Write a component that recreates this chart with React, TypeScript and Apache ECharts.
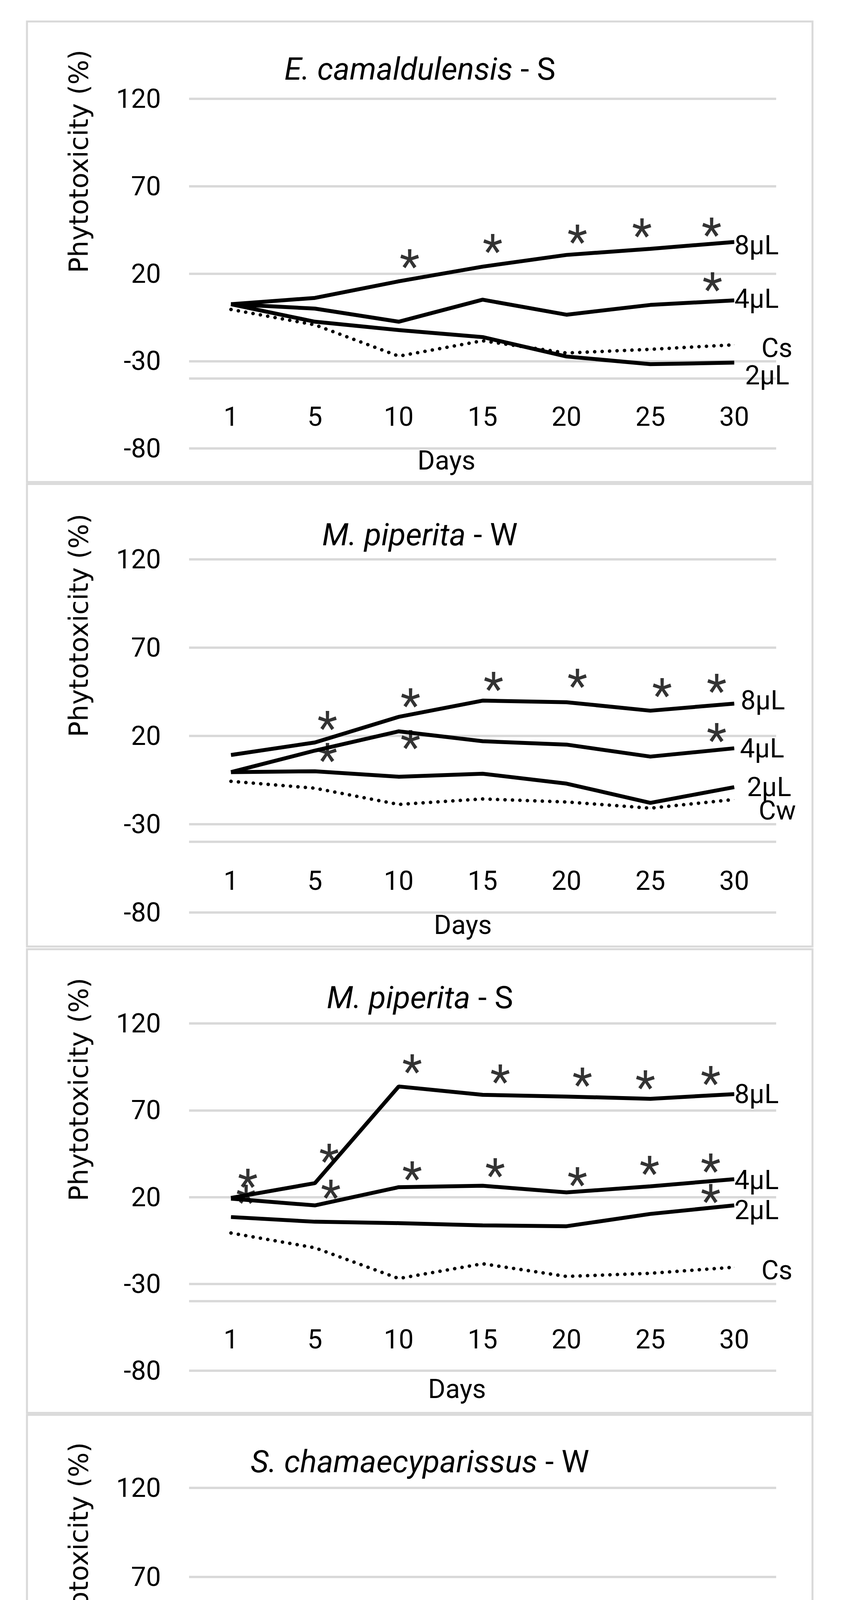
import React, { useEffect, useRef } from 'react';
import * as echarts from 'echarts';

// ---------- data ----------
const days = ['1', '5', '10', '15', '20', '25', '30'];
const yMin = -80;
const yMax = 120;
const yStep = 50;
const axisCrossValue = -40;
const xLabelLevel = -62;

// Panel 1: E. camaldulensis - S
const ecS_8 = [2.5, 6.1, 15.6, 24.0, 30.7, 34.2, 38.1];
const ecS_4 = [2.5, 0, -7.5, 5.1, -3.5, 2.1, 4.7];
const ecS_2 = [2.5, -7.5, -12.3, -16.3, -27.4, -31.8, -30.9];
const ecS_C = [-0.5, -9.3, -27.2, -18.4, -25.4, -23.3, -20.7];
const ecS_stars = [[2.13, 28.4], [3.12, 37.2], [4.13, 42.5], [4.9, 46.0], [5.73, 46.5], [5.74, 15.3]];

// Panel 2: M. piperita - W
const mpW_8 = [9.2, 16.3, 30.8, 40.0, 39.1, 34.3, 38.3];
const mpW_4 = [-0.5, 11.7, 22.6, 17.0, 15.1, 8.3, 13.0];
const mpW_2 = [-0.5, 0, -3.1, -1.4, -7.0, -17.9, -9.0];
const mpW_C = [-5.7, -9.6, -18.8, -15.7, -17.4, -20.9, -16.0];
const mpW_stars = [[1.15, 28.7], [1.15, 10.4], [2.14, 41.4], [2.14, 17.7], [3.13, 50.8], [4.13, 52.5], [5.14, 47.3], [5.79, 49.6], [5.79, 21.7]];

// Panel 3: M. piperita - S
const mpS_8 = [19.5, 28.0, 83.7, 78.9, 77.9, 76.6, 79.3];
const mpS_4 = [19.1, 15.2, 25.7, 26.5, 22.7, 26.2, 30.3];
const mpS_2 = [8.5, 5.8, 5.0, 3.7, 3.2, 10.3, 15.2];
const mpS_C = [-0.7, -9.2, -26.9, -18.4, -25.7, -23.9, -20.4];
const mpS_stars = [[0.2, 30.6], [0.18, 21.4], [1.17, 45.1], [1.19, 24.4], [2.16, 96.5], [2.16, 35.0], [3.21, 90.8], [3.15, 36.8], [4.19, 89.0], [4.13, 31.5], [4.94, 87.3], [4.99, 38.1], [5.72, 89.9], [5.72, 39.5], [5.72, 21.8]];

// Panel 4: S. chamaecyparissus - W
const scW_8 = [-1.0, 1.4, 36.4, 33.8, 30.0, 31.2, 30.0];
const scW_4 = [-5.9, -2.1, -11.0, -15.3, -17.1, -14.1, -21.7];
const scW_2 = [-6.7, -2.1, -16.2, -21.7, -26.6, -31.4, -28.3];
const scW_C = [-7.6, -9.3, -18.8, -16.2, -17.9, -20.5, -15.7];
const scW_stars = [[2.19, 45.5], [3.13, 46.7], [4.16, 41.6], [5.14, 40.7], [5.72, 37.6]];

// Panel 5: S. chamaecyparissus - S
const scS_8 = [8.7, 13.5, 15.2, 19.7, 17.7, 25.7, 21.4];
const scS_4 = [6.7, 2.8, 0.4, 8.7, 1.1, -1.3, 6.2];
const scS_2 = [3.3, -4.0, -7.4, -1.5, -10.3, -6.1, -7.8];
const scS_C = [-0.6, -9.5, -26.5, -18.0, -25.6, -23.1, -20.0];
const scS_stars = [[1.16, 27.9], [2.13, 24.2], [3.13, 30.4], [4.1, 29.6], [5.14, 37.2], [5.74, 30.4], [4.13, 8.4], [5.78, 15.2]];

const seriesNames = ['8µL', '4µL', '2µL'];

// ---------- layout / style ----------
const FONT = 'Roboto, "Liberation Sans", sans-serif';
const TITLE_FONT = 'Roboto, "Liberation Sans", sans-serif';
const YTITLE_FONT = '"DejaVu Sans", Verdana, sans-serif';
const GRID_COLOR = '#d9d9d9';
const FS = 68;
const TITLE_FS = 80;
const STAR_FS = 118;

const panels = [
  {
    species: 'E. camaldulensis', suffix: ' - S', control: 'Cs',
    s8: ecS_8, s4: ecS_4, s2: ecS_2, c: ecS_C, stars: ecS_stars,
    box: [69, 55, 2011, 1179], grid: [484, 253, 1503, 895],
    titleY: 177, yTitle: [202, 413], daysPos: [1143, 1179],
    off: { s8: [0, 8], s4: [0, -4], s2: [27, 33], c: [69, 8] },
  },
  {
    species: 'M. piperita', suffix: ' - W', control: 'Cw',
    s8: mpW_8, s4: mpW_4, s2: mpW_2, c: mpW_C, stars: mpW_stars,
    box: [69, 1239, 2011, 1184], grid: [484, 1432, 1503, 904],
    titleY: 1369, yTitle: [202, 1601], daysPos: [1185, 2368],
    off: { s8: [16, -8], s4: [14, 0], s2: [32, 0], c: [62, 28] },
  },
  {
    species: 'M. piperita', suffix: ' - S', control: 'Cs',
    s8: mpS_8, s4: mpS_4, s2: mpS_2, c: mpS_C, stars: mpS_stars,
    box: [69, 2430, 2011, 1187], grid: [484, 2620, 1503, 889],
    titleY: 2554, yTitle: [202, 2789], daysPos: [1170, 3556],
    off: { s8: [0, 0], s4: [0, 2], s2: [0, 12], c: [69, 8] },
  },
  {
    species: 'S. chamaecyparissus', suffix: ' - W', control: 'Cw',
    s8: scW_8, s4: scW_4, s2: scW_2, c: scW_C, stars: scW_stars,
    box: [69, 3622, 2011, 1176], grid: [484, 3809, 1503, 912],
    titleY: 3742, yTitle: [202, 3978], daysPos: [1143, 4744],
    off: { s8: [0, 6], s4: [27, 14], s2: [48, 39], c: [62, -37] },
  },
  {
    species: 'S. chamaecyparissus', suffix: ' - S', control: 'Cs',
    s8: scS_8, s4: scS_4, s2: scS_2, c: scS_C, stars: scS_stars,
    box: [50, 4808, 2048, 1178], grid: [473, 5015, 1530, 910],
    titleY: 4932, yTitle: [184, 5168], daysPos: [1188, 5928],
    off: { s8: [5, 0], s4: [14, 0], s2: [69, 9], c: [72, 6] },
  },
];

function lastLabelData(values: number[], name: string, off: number[]) {
  return values.map((v, i) =>
    i === values.length - 1
      ? {
          value: v,
          label: {
            show: true,
            position: 'right',
            distance: 0,
            offset: off,
            formatter: name,
            color: '#000',
            fontFamily: FONT,
            fontSize: FS,
          },
        }
      : v
  );
}

function buildOption() {
  const grid: any[] = [];
  const xAxis: any[] = [];
  const yAxis: any[] = [];
  const series: any[] = [];
  const graphic: any[] = [];

  panels.forEach((p, i) => {
    const [gl, gt, gw, gh] = p.grid;
    grid.push({ left: gl, top: gt, width: gw, height: gh, containLabel: false });
    const labelMargin = -((xLabelLevel - yMin) / (yMax - yMin)) * gh;
    xAxis.push({
      type: 'category',
      gridIndex: i,
      data: days,
      boundaryGap: true,
      axisLine: { show: false },
      axisTick: { show: false },
      splitLine: { show: false },
      axisLabel: {
        margin: labelMargin,
        verticalAlign: 'middle',
        color: '#000',
        fontFamily: FONT,
        fontSize: FS,
      },
    });
    xAxis.push({
      type: 'value',
      gridIndex: i,
      min: -0.5,
      max: days.length - 0.5,
      show: false,
    });
    yAxis.push({
      type: 'value',
      gridIndex: i,
      min: yMin,
      max: yMax,
      interval: yStep,
      axisLine: { show: false },
      axisTick: { show: false },
      splitLine: { show: true, lineStyle: { color: GRID_COLOR, width: 6 } },
      axisLabel: { margin: 72, color: '#000', fontFamily: FONT, fontSize: FS },
    });

    const xi = i * 2;
    const common = {
      type: 'line',
      xAxisIndex: xi,
      yAxisIndex: i,
      showSymbol: true,
      symbol: 'circle',
      symbolSize: 1,
      itemStyle: { color: '#000' },
      silent: true,
      z: 3,
    };
    series.push({
      ...common,
      name: p.control,
      data: lastLabelData(p.c, p.control, p.off.c),
      lineStyle: { color: '#000', width: 9, type: [0.1, 19], cap: 'round' },
      markLine: {
        silent: true,
        symbol: 'none',
        label: { show: false },
        lineStyle: { color: GRID_COLOR, width: 6, type: 'solid' },
        data: [{ yAxis: axisCrossValue }],
        z: 1,
      },
    });
    series.push({
      ...common,
      name: seriesNames[2],
      data: lastLabelData(p.s2, seriesNames[2], p.off.s2),
      lineStyle: { color: '#000', width: 10 },
    });
    series.push({
      ...common,
      name: seriesNames[1],
      data: lastLabelData(p.s4, seriesNames[1], p.off.s4),
      lineStyle: { color: '#000', width: 10 },
    });
    series.push({
      ...common,
      name: seriesNames[0],
      data: lastLabelData(p.s8, seriesNames[0], p.off.s8),
      lineStyle: { color: '#000', width: 10 },
    });
    series.push({
      type: 'scatter',
      xAxisIndex: xi + 1,
      yAxisIndex: i,
      silent: true,
      symbol: 'circle',
      symbolSize: 1,
      itemStyle: { color: 'rgba(0,0,0,0)' },
      data: p.stars,
      label: {
        show: true,
        position: 'inside',
        formatter: '*',
        color: '#000',
        fontFamily: FONT,
        fontSize: STAR_FS,
        offset: [0, 20],
      },
      z: 4,
    });

    const [bx, by, bw, bh] = p.box;
    graphic.push({
      type: 'rect',
      shape: { x: bx, y: by, width: bw, height: bh },
      style: { fill: 'none', stroke: GRID_COLOR, lineWidth: 5 },
      silent: true,
      z: 0,
    });
    graphic.push({
      type: 'text',
      x: 1075,
      y: p.titleY,
      silent: true,
      style: {
        text: `{i|${p.species}}{n|${p.suffix}}`,
        align: 'center',
        verticalAlign: 'middle',
        fill: '#000',
        fontFamily: TITLE_FONT,
        fontSize: TITLE_FS,
        rich: {
          i: { fontStyle: 'italic', fontFamily: TITLE_FONT, fontSize: TITLE_FS, fill: '#000' },
          n: { fontStyle: 'normal', fontFamily: TITLE_FONT, fontSize: TITLE_FS, fill: '#000' },
        },
      },
    });
    graphic.push({
      type: 'text',
      x: p.yTitle[0],
      y: p.yTitle[1],
      rotation: Math.PI / 2,
      silent: true,
      style: {
        text: 'Phytotoxicity (%)',
        align: 'center',
        verticalAlign: 'middle',
        fill: '#000',
        fontFamily: YTITLE_FONT,
        fontSize: 67,
      },
    });
    graphic.push({
      type: 'text',
      x: p.daysPos[0],
      y: p.daysPos[1],
      silent: true,
      style: {
        text: 'Days',
        align: 'center',
        verticalAlign: 'middle',
        fill: '#000',
        fontFamily: FONT,
        fontSize: FS,
      },
    });
  });

  return {
    animation: false,
    backgroundColor: '#ffffff',
    grid,
    xAxis,
    yAxis,
    series,
    graphic,
  };
}

export default function App() {
  const ref = useRef<HTMLDivElement | null>(null);
  useEffect(() => {
    document.body.style.margin = '0';
    if (!ref.current) return;
    const chart = echarts.init(ref.current, null, { renderer: 'svg' });
    chart.setOption(buildOption() as any);
    return () => chart.dispose();
  }, []);
  return (
    <>
      <style>{'html,body{margin:0;padding:0;background:#fff;}'}</style>
      <div ref={ref} style={{ width: 2153, height: 6037, background: '#fff' }} />
    </>
  );
}
